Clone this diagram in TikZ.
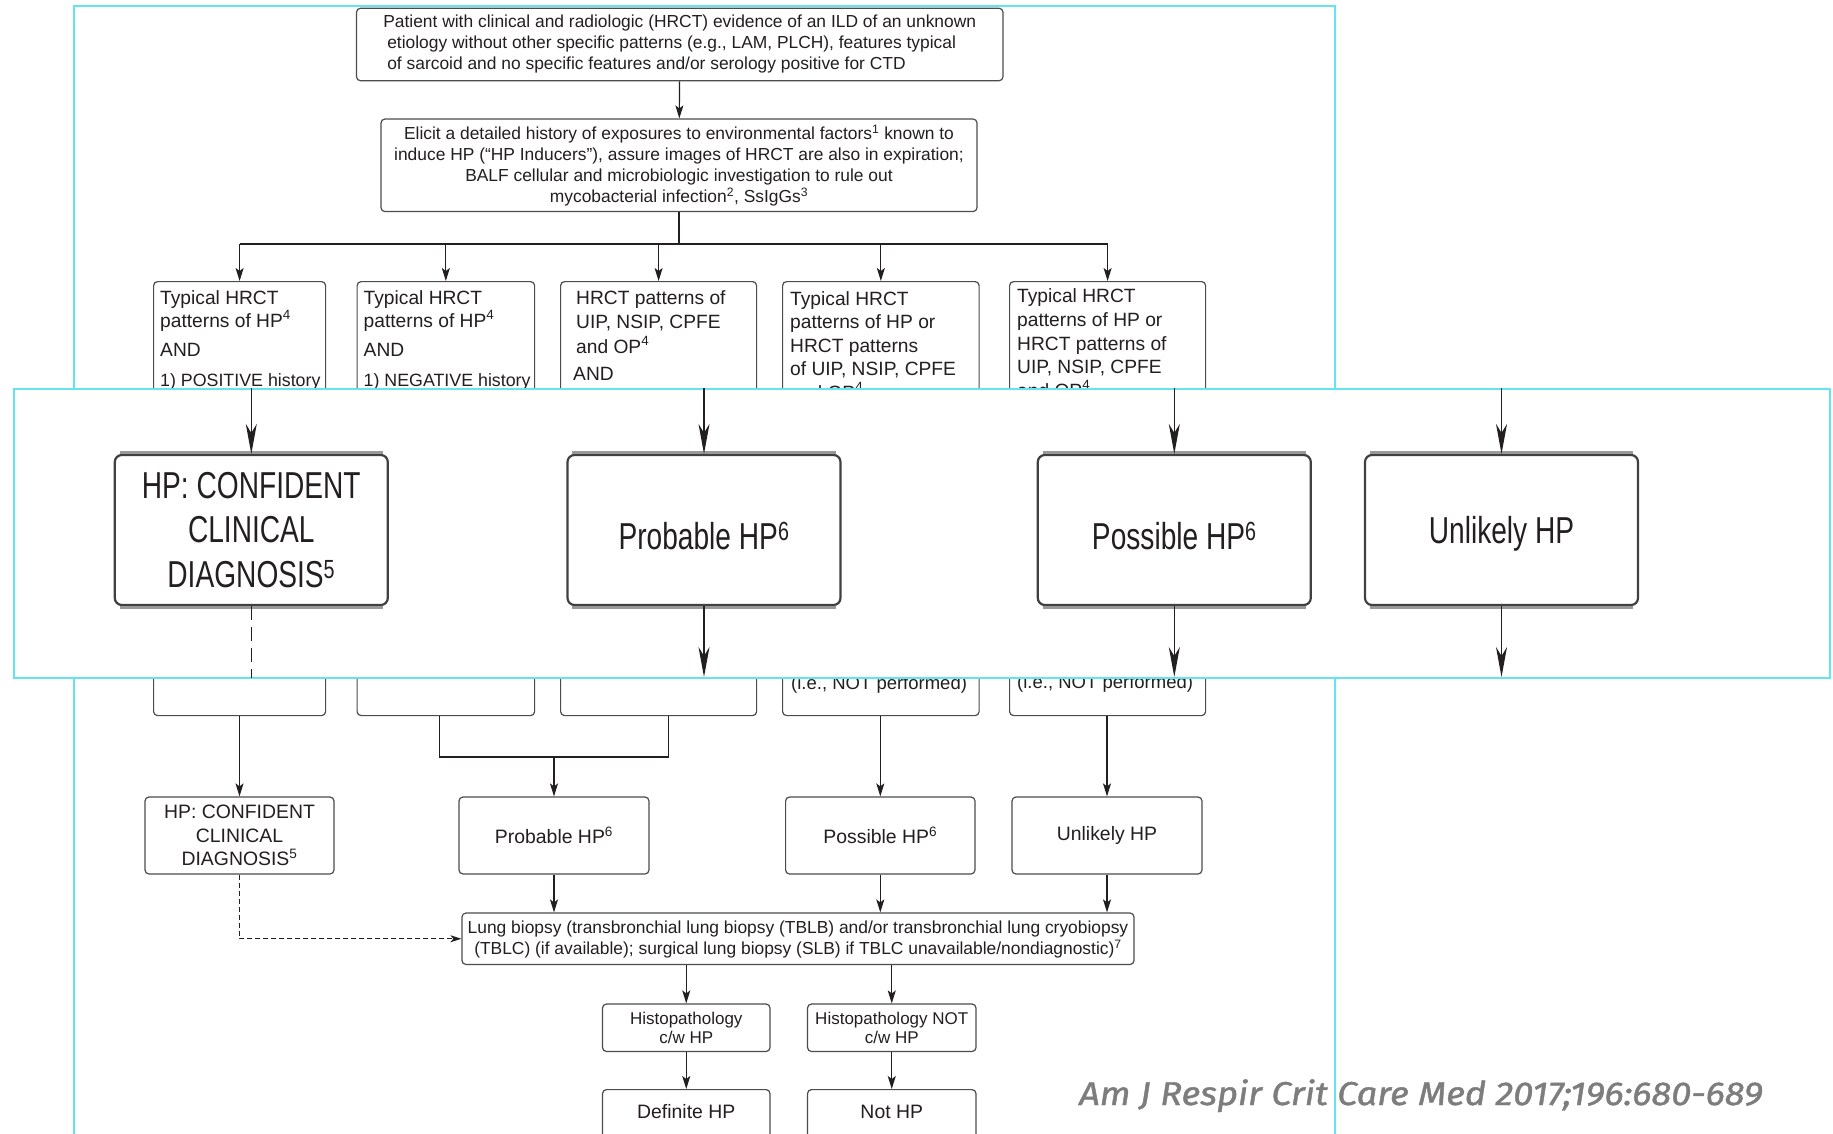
\documentclass[tikz,border=0pt]{standalone}
\usepackage{fontspec}
\setmainfont{Liberation Sans}
\newfontfamily\bandfont[FakeStretch=0.75]{Liberation Sans}
\newfontfamily\wmfont[FakeBold=1.2]{Fira Sans}
\usetikzlibrary{arrows.meta}
\definecolor{cyanline}{RGB}{100,228,240}
\definecolor{ink}{RGB}{35,31,32}
\definecolor{wmgray}{RGB}{125,125,125}
\newcommand\boxline[4]{\node[txtline] (#1) at (#2,#3) {#4};}
\tikzset{
  box/.style={draw=black!70, line width=1.2pt, rounded corners=4pt, fill=white, inner sep=0pt, text=ink},
  conn/.style={draw=ink, line width=1.2pt},
  arr/.style={conn, -{Stealth[length=13pt,width=8pt,inset=3pt]}},
  dashconn/.style={conn, dash pattern=on 5pt off 3pt},
  bigbox/.style={draw=black!75, line width=2.2pt, rounded corners=7pt, fill=white, inner sep=0pt, text=ink,
    minimum width=273pt, minimum height=150pt, font=\bandfont\fontsize{37.5}{44.5}\selectfont, align=center},
  bigtext/.style={inner sep=0pt, text=ink, font=\bandfont\fontsize{37.5}{44.5}\selectfont},
  bigarr/.style={draw=ink, line width=1.4pt, -{Stealth[length=30pt,width=11pt,inset=9pt]}},
  txtline/.style={anchor=base west, inner sep=0pt, text=ink, font=\fontsize{19.2}{22}\selectfont},
  smallfont/.style={font=\fontsize{17.4}{21}\selectfont},
  midfont/.style={font=\fontsize{19.4}{23.5}\selectfont},
}
\begin{document}
\begin{tikzpicture}[x=1pt,y=-1pt]
\useasboundingbox (0,0) rectangle (1833,1134);
\clip (0,0) rectangle (1833,1134);
\fill[white] (0,0) rectangle (1833,1134);
% outer frame
\draw[cyanline, line width=2pt] (73.6,5.8) rectangle (1335,1200);

% top boxes
\node[box, smallfont, minimum width=646.5pt, minimum height=72.5pt, align=left] (top) at (679.75,44.5)
 {Patient with clinical and radiologic (HRCT) evidence of an ILD of an unknown\\
  \hspace*{4pt}etiology without other specific patterns (e.g., LAM, PLCH), features typical\\
  \hspace*{4pt}of sarcoid and no specific features and/or serology positive for CTD};
\node[box, smallfont, minimum width=596pt, minimum height=92.6pt, align=center] (hist) at (679,165.3)
 {Elicit a detailed history of exposures to environmental factors\textsuperscript{1} known to\\
  induce HP (“HP Inducers”), assure images of HRCT are also in expiration;\\
  BALF cellular and microbiologic investigation to rule out\\
  mycobacterial infection\textsuperscript{2}, SsIgGs\textsuperscript{3}};
\draw[arr] (top) -- (hist);

% five criteria boxes
\node[box, anchor=north west, minimum width=172pt, minimum height=434pt] (c1) at (153,281) {};
\node[box, anchor=north west, minimum width=177.5pt, minimum height=434pt] (c2) at (356.5,281) {};
\node[box, anchor=north west, minimum width=196pt, minimum height=434pt] (c3) at (560,281) {};
\node[box, anchor=north west, minimum width=196.5pt, minimum height=434pt] (c4) at (782,281) {};
\node[box, anchor=north west, minimum width=196pt, minimum height=434pt] (c5) at (1009,281) {};

\coordinate (split) at (679,244);
\draw[conn] (hist) -- (split);
\draw[conn] (c1.north |- split) -- (c5.north |- split);
\foreach \c in {c1,c2,c3,c4,c5} \draw[arr] (\c.north |- split) -- (\c.north);

\boxline{a1}{160}{304}{Typical HRCT}
\boxline{a2}{160}{327}{patterns of HP\textsuperscript{4}}
\boxline{a3}{160}{356}{AND}
\node[txtline, font=\fontsize{17.8}{22}\selectfont] (a4) at (160,386) {1) POSITIVE history};
\boxline{b1}{363.5}{304}{Typical HRCT}
\boxline{b2}{363.5}{327}{patterns of HP\textsuperscript{4}}
\boxline{b3}{363.5}{356}{AND}
\node[txtline, font=\fontsize{17.8}{22}\selectfont] (b4) at (363.5,386) {1) NEGATIVE history};
\boxline{d1}{576}{304}{HRCT patterns of}
\boxline{d2}{576}{328}{UIP, NSIP, CPFE}
\boxline{d3}{576}{353}{and OP\textsuperscript{4}}
\boxline{d4}{573}{380}{AND}
\boxline{e1}{790}{305}{Typical HRCT}
\boxline{e2}{790}{328}{patterns of HP or}
\boxline{e3}{790}{352}{HRCT patterns}
\boxline{e4}{790}{375}{of UIP, NSIP, CPFE}
\boxline{e5}{790}{399}{and OP\textsuperscript{4}}
\node[txtline, font=\fontsize{18.5}{22}\selectfont] (e6) at (791,689) {(i.e., NOT performed)};
\boxline{f1}{1017}{302}{Typical HRCT}
\boxline{f2}{1017}{326}{patterns of HP or}
\boxline{f3}{1017}{350}{HRCT patterns of}
\boxline{f4}{1017}{373}{UIP, NSIP, CPFE}
\boxline{f5}{1017}{397}{and OP\textsuperscript{4}}
\node[txtline, font=\fontsize{18.5}{22}\selectfont] (f6) at (1017,688) {(i.e., NOT performed)};

% result boxes
\node[box, midfont, minimum width=189pt, minimum height=77pt, align=center] (r1) at (239.5,835.5)
 {HP: CONFIDENT\\CLINICAL\\DIAGNOSIS\textsuperscript{5}};
\node[box, midfont, minimum width=190pt, minimum height=77pt] (r2) at (554,835.5) {Probable HP\textsuperscript{6}};
\node[box, midfont, minimum width=189.4pt, minimum height=77pt] (r3) at (880.3,835.5) {Possible HP\textsuperscript{6}};
\node[box, midfont, minimum width=190pt, minimum height=77pt] (r4) at (1107,835.5) {Unlikely HP};

\draw[arr] (c1.south -| r1) -- (r1);
\coordinate (j2) at (439.5,757);
\coordinate (j3) at (668.7,757);
\draw[conn] (c2.south -| j2) -- (j2) -- (j3) -- (c3.south -| j3);
\draw[arr] (r2.north |- j2) -- (r2.north);
\draw[arr] (c4.south -| r3) -- (r3);
\draw[arr] (c5.south -| r4) -- (r4);

% lung biopsy
\node[box, smallfont, minimum width=672pt, minimum height=51.5pt, align=center] (lung) at (798,938.75)
 {\rule{0pt}{15pt}Lung biopsy (transbronchial lung biopsy (TBLB) and/or transbronchial lung cryobiopsy\\
  (TBLC) (if available); surgical lung biopsy (SLB) if TBLC unavailable/nondiagnostic)\textsuperscript{7}};
\draw[arr] (r2) -- (r2 |- lung.north);
\draw[arr] (r3) -- (r3 |- lung.north);
\draw[arr] (r4) -- (r4 |- lung.north);
\draw[dashconn, -{Stealth[length=11pt,width=7pt,inset=3pt]}] (r1.south) |- (lung.west);

% histopathology
\node[box, font=\fontsize{17}{19.5}\selectfont, minimum width=167.5pt, minimum height=47.5pt, align=center] (h1) at (686.25,1027.75)
 {Histopathology\\c/w HP};
\node[box, font=\fontsize{17}{19.5}\selectfont, minimum width=168.5pt, minimum height=47.5pt, align=center] (h2) at (891.75,1027.75)
 {Histopathology NOT\\c/w HP};
\draw[arr] (lung.south -| h1) -- (h1);
\draw[arr] (lung.south -| h2) -- (h2);
\node[box, anchor=north, minimum width=167.5pt, minimum height=70pt] (k1) at (686.25,1089) {};
\node[box, anchor=north, minimum width=168.5pt, minimum height=70pt] (k2) at (891.75,1089) {};
\node[anchor=base, inner sep=0pt, text=ink, font=\fontsize{19.4}{22}\selectfont] (k1t) at (686.25,1118) {Definite HP};
\node[anchor=base, inner sep=0pt, text=ink, font=\fontsize{19.4}{22}\selectfont] (k2t) at (891.75,1118) {Not HP};
\draw[arr] (h1) -- (k1);
\draw[arr] (h2) -- (k2);

% magnified band
\node[draw=cyanline, line width=2pt, fill=white, anchor=north west, minimum width=1816pt, minimum height=289pt, inner sep=0pt] (band) at (13,388) {};
\node[bigbox] (R1) at (251.3,530) {HP: CONFIDENT\\CLINICAL\\DIAGNOSIS\textsuperscript{5}};
\node[bigbox] (R2) at (704,530) {};
\node[bigbox] (R3) at (1174.3,530) {};
\node[bigbox] (R4) at (1501.5,530) {};
\node[bigtext] (R2t) at (704,536) {Probable HP\textsuperscript{6}};
\node[bigtext] (R3t) at (1174.3,536) {Possible HP\textsuperscript{6}};
\node[bigtext] (R4t) at (1501.5,533.5) {Unlikely HP};
\foreach \R in {R1,R2,R3,R4} {
  \draw[black!40, line width=3pt] ([xshift=6pt,yshift=1.8pt]\R.north west) -- ([xshift=-6pt,yshift=1.8pt]\R.north east);
  \draw[black!40, line width=3pt] ([xshift=6pt,yshift=-1.8pt]\R.south west) -- ([xshift=-6pt,yshift=-1.8pt]\R.south east);
  \draw[bigarr] (band.north -| \R) -- (\R.north);
}
\foreach \R in {R2,R3,R4} \draw[bigarr, shorten >=2pt] (\R.south) -- (\R.south |- band.south);
\draw[draw=ink, line width=1.4pt, dash pattern=on 14pt off 7pt] (R1.south) -- ([yshift=1pt]R1.south |- band.south);

% watermark
\node[anchor=base west, inner sep=0pt, text=wmgray, font=\wmfont\itshape\fontsize{33}{36}\selectfont] (wm) at (1079,1105)
 {\scalebox{1.1}[1]{Am J Respir Crit Care Med 2017;196:680-689}};
\end{tikzpicture}
\end{document}
